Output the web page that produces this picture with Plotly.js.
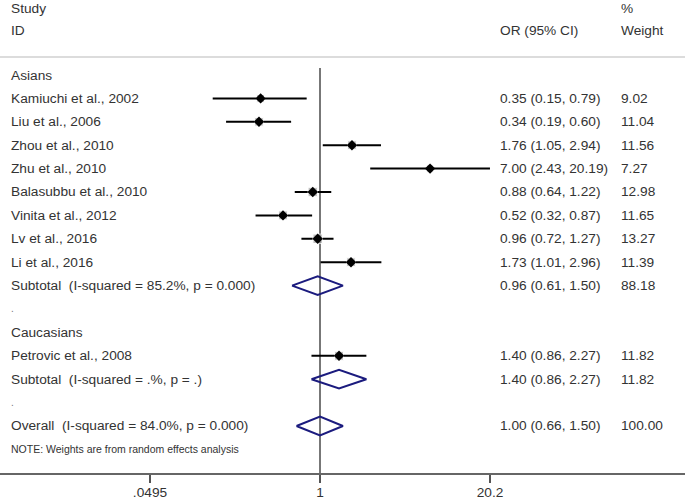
<!DOCTYPE html>
<html>
<head>
<meta charset="utf-8">
<script src="https://cdn.plot.ly/plotly-3.0.1.min.js"></script>
<style>html,body{margin:0;padding:0;background:#fff;}#chart{width:685px;height:500px;}</style>
</head>
<body>
<div id="chart"></div>
<script>
// ---- data ----
const asianStudies = ["Kamiuchi et al., 2002","Liu et al., 2006","Zhou et al., 2010","Zhu et al., 2010","Balasubbu et al., 2010","Vinita et al., 2012","Lv et al., 2016","Li et al., 2016"];
const asianOR = [0.35, 0.34, 1.76, 7.00, 0.88, 0.52, 0.96, 1.73];
const asianLo = [0.15, 0.19, 1.05, 2.43, 0.64, 0.32, 0.72, 1.01];
const asianHi = [0.79, 0.60, 2.94, 20.19, 1.22, 0.87, 1.27, 2.96];
const asianW  = [9.02, 11.04, 11.56, 7.27, 12.98, 11.65, 13.27, 11.39];

const caucStudies = ["Petrovic et al., 2008"];
const caucOR = [1.40];
const caucLo = [0.86];
const caucHi = [2.27];
const caucW  = [11.82];

const groupNames = ["Asians", "Caucasians"];
const subtotalLabels = ["Subtotal\u00a0 (I-squared = 85.2%, p = 0.000)", "Subtotal\u00a0 (I-squared = .%, p = .)"];
const subtotalOR = [0.96, 1.40];
const subtotalLo = [0.61, 0.86];
const subtotalHi = [1.50, 2.27];
const subtotalW  = ["88.18", "11.82"];

const overallLabel = "Overall\u00a0 (I-squared = 84.0%, p = 0.000)";
const overallOR = 1.00, overallLo = 0.66, overallHi = 1.50, overallW = "100.00";

const tickVals = [0.0495, 1, 20.2];
const tickText = [".0495", "1", "20.2"];
const noteText = "NOTE: Weights are from random effects analysis";

// ---- build rows ----
const groups = [
  {name: groupNames[0], s: asianStudies, or: asianOR, lo: asianLo, hi: asianHi, w: asianW},
  {name: groupNames[1], s: caucStudies, or: caucOR, lo: caucLo, hi: caucHi, w: caucW}
];
const fmt = (o,l,h) => o.toFixed(2) + " (" + l.toFixed(2) + ", " + h.toFixed(2) + ")";

const txtColor = "#333";
const font = {family: "Liberation Sans, Arial, sans-serif", size: 13.7, color: txtColor};
const annotations = [];
const xLab = 9/685, xOR = 498/685, xW = 619/685;
function ann(x, y, text, f) {
  annotations.push({xref: "paper", yref: "y", x: x, y: y, text: text, showarrow: false,
    xanchor: "left", yanchor: "middle", font: f || font});
}

const ptX = [], ptY = [], ptLo = [], ptHi = [], ptW = [];
const dTraces = [];
const diamondH = 0.4;
const diamondColor = "#1b1b7e";
function diamond(o, l, h, r) {
  dTraces.push({type: "scatter", mode: "lines", x: [l, o, h, o, l], y: [r, r - diamondH, r, r + diamondH, r],
    line: {color: diamondColor, width: 2}, hoverinfo: "skip"});
}

let row = 0;
groups.forEach((g, gi) => {
  ann(xLab, row, g.name);
  row++;
  g.s.forEach((s, i) => {
    ann(xLab, row, s);
    ann(xOR, row, fmt(g.or[i], g.lo[i], g.hi[i]));
    ann(xW, row, g.w[i].toFixed(2));
    ptX.push(g.or[i]); ptY.push(row); ptLo.push(g.or[i] - g.lo[i]); ptHi.push(g.hi[i] - g.or[i]); ptW.push(g.w[i]);
    row++;
  });
  ann(xLab, row, subtotalLabels[gi]);
  ann(xOR, row, fmt(subtotalOR[gi], subtotalLo[gi], subtotalHi[gi]));
  ann(xW, row, subtotalW[gi]);
  diamond(subtotalOR[gi], subtotalLo[gi], subtotalHi[gi], row);
  row++;
  ann(xLab, row, ".", {family: font.family, size: 10, color: "#777"});
  row++;
});
ann(xLab, row, overallLabel);
ann(xOR, row, fmt(overallOR, overallLo, overallHi));
ann(xW, row, overallW);
diamond(overallOR, overallLo, overallHi, row);
row++;
ann(xLab, row, noteText, {family: font.family, size: 10.5, color: txtColor});

// headers
ann(xLab, -2.86, "Study");
ann(xLab, -1.92, "ID");
ann(xOR, -1.92, "OR (95% CI)");
ann(xW, -2.86, "%");
ann(xW, -1.92, "Weight");

const boxTrace = {
  type: "scatter", mode: "markers", x: ptX, y: ptY,
  marker: {symbol: "square", color: "#a8a8a8", size: ptW.map(w => 2.6 * Math.sqrt(w))},
  error_x: {type: "data", symmetric: false, array: ptHi, arrayminus: ptLo, color: "#000", thickness: 2, width: 0},
  hoverinfo: "skip"
};
const ptTrace = {
  type: "scatter", mode: "markers", x: ptX, y: ptY,
  marker: {symbol: "diamond", color: "#000", size: 8},
  hoverinfo: "skip"
};

const pxPerDec = 170 / Math.log10(20.2);
const xRange = [-320 / pxPerDec, 365 / pxPerDec];

const layout = {
  width: 685, height: 500,
  margin: {l: 0, r: 0, t: 0, b: 27, pad: 0},
  paper_bgcolor: "#fff", plot_bgcolor: "#fff",
  showlegend: false, hovermode: false,
  xaxis: {type: "log", range: xRange, showgrid: false, zeroline: false,
    showline: true, linecolor: "#666", linewidth: 1.5,
    ticks: "outside", ticklen: 8, tickwidth: 1.5, tickcolor: "#555",
    ticklabelstandoff: -2,
    tickvals: tickVals, ticktext: tickText,
    tickfont: {family: font.family, size: 13.7, color: txtColor}},
  yaxis: {range: [17.009, -3.205], showgrid: false, zeroline: false, showline: false,
    showticklabels: false, ticks: ""},
  shapes: [
    {type: "line", xref: "paper", yref: "y", x0: 0, x1: 1, y0: -0.77, y1: -0.77,
      line: {color: "#d0d0d0", width: 1.5}},
    {type: "line", xref: "x", yref: "y", x0: 1, x1: 1, y0: -0.3, y1: 17.009,
      line: {color: "#777", width: 2}, layer: "below"}
  ],
  annotations: annotations
};

Plotly.newPlot("chart", [boxTrace, ptTrace].concat(dTraces), layout, {staticPlot: true, displayModeBar: false});
</script>
</body>
</html>
